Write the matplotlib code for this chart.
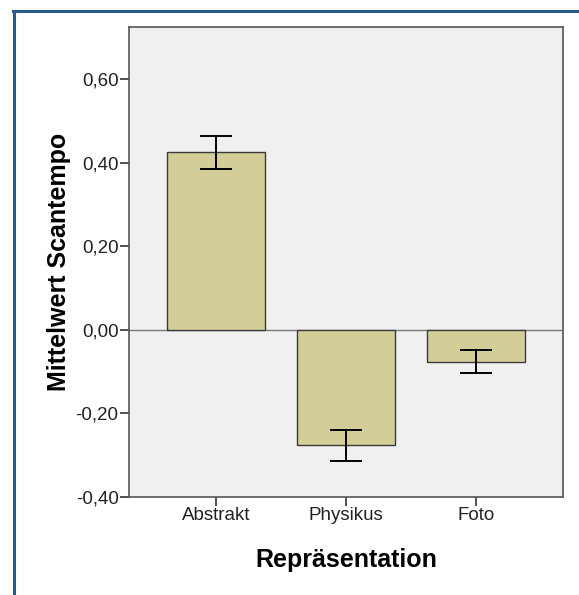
import numpy as np
import matplotlib
matplotlib.use('Agg')
import matplotlib.pyplot as plt
from matplotlib.lines import Line2D

categories = ['Abstrakt', 'Physikus', 'Foto']
means = [0.425, -0.276, -0.076]
errors = [0.040, 0.037, 0.027]
yticks = [-0.40, -0.20, 0.00, 0.20, 0.40, 0.60]

plt.rcParams['font.family'] = ['Liberation Sans', 'DejaVu Sans']

fig = plt.figure(figsize=(5.79, 5.95), dpi=100)
ax = fig.add_axes([0.2228, 0.1647, 0.7496, 0.7899])
ax.set_facecolor('#f0f0f0')

x = np.arange(len(categories))
ax.axhline(0, color='#7a7a7a', lw=1.0, zorder=1)
ax.bar(x, means, width=0.75, color='#d3ce97', edgecolor='#3a3a3a', linewidth=1.0, zorder=2)
ax.errorbar(x, means, yerr=errors, fmt='none', ecolor='black', elinewidth=1.4,
            capsize=11.5, capthick=1.4, zorder=3)

ax.set_xlim(-0.667, 2.667)
ax.set_ylim(-0.40, 0.725)
ax.set_xticks(x)
ax.set_xticklabels(categories)
ax.set_yticks(yticks)
ax.set_yticklabels([('%.2f' % v).replace('.', ',') for v in yticks])
ax.tick_params(axis='both', labelsize=13.5, length=6.5, width=1.2, color='#333333',
               labelcolor='#222222', pad=1)

for s in ax.spines.values():
    s.set_color('#555555')
    s.set_linewidth(1.2)

ax.set_xlabel('Repräsentation', fontsize=18, fontweight='bold', labelpad=17)
ax.set_ylabel('Mittelwert Scantempo', fontsize=18, fontweight='bold', labelpad=3)

# blue frame on top and left
fig.add_artist(Line2D([14/579, 14/579], [0, 1 - 11/595], color='#2b5a8e', lw=2.2,
                      transform=fig.transFigure))
fig.add_artist(Line2D([13/579, 1], [1 - 11/595, 1 - 11/595], color='#2b5a8e', lw=2.2,
                      transform=fig.transFigure))

fig.savefig('out.png', dpi=100)
